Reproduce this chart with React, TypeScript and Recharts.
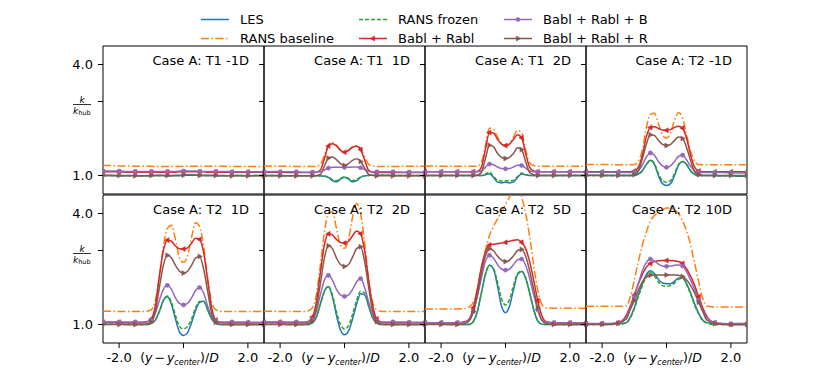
import React from 'react';
import { LineChart, Line, XAxis, YAxis, ReferenceArea } from 'recharts';

// profile positions (y - y_center)/D, denser across the wake
const xs = [-2.5, -2.25, -2, -1.75, -1.5, -1.25, -1.125, -1, -0.875, -0.75, -0.625, -0.5, -0.375, -0.25, -0.125, 0,
  0.125, 0.25, 0.375, 0.5, 0.625, 0.75, 0.875, 1, 1.125, 1.25, 1.5, 1.75, 2, 2.25, 2.5];

const titles = ['Case A: T1 -1D', 'Case A: T1  1D', 'Case A: T1  2D', 'Case A: T2 -1D',
  'Case A: T2  1D', 'Case A: T2  2D', 'Case A: T2  5D', 'Case A: T2 10D'];

const xTicks = [-2, 0, 2];
const yTicks = [1, 3, 4];

// one row per panel, k / k_hub
const les = [
  [1.0, 1.0, 0.99, 1.0, 1.0, 0.99, 1.0, 1.0, 1.0, 1.0, 1.0, 0.99, 0.99, 1.0, 1.0, 1.01, 1.02, 1.02, 1.01, 1.01, 1.0, 1.0, 1.0, 1.0, 0.99, 0.99, 1.0, 1.0, 0.99, 1.0, 1.0],
  [1.0, 1.0, 1.0, 0.99, 0.99, 0.99, 0.99, 0.99, 0.99, 0.99, 0.98, 0.95, 0.86, 0.83, 0.9, 0.95, 0.9, 0.83, 0.86, 0.95, 0.99, 1.0, 1.01, 1.01, 1.01, 1.01, 1.0, 1.0, 1.0, 1.0, 1.0],
  [1.0, 1.0, 1.0, 1.0, 1.0, 1.0, 1.0, 1.0, 1.0, 1.0, 1.02, 1.05, 0.95, 0.82, 0.8, 0.82, 0.8, 0.82, 0.95, 1.04, 1.02, 1.0, 1.0, 1.0, 1.0, 1.0, 1.0, 1.0, 1.0, 1.0, 1.0],
  [1.01, 1.01, 1.0, 1.0, 1.0, 1.0, 1.0, 1.01, 1.04, 1.13, 1.3, 1.41, 1.3, 1.0, 0.78, 0.73, 0.78, 1.0, 1.28, 1.38, 1.3, 1.12, 1.03, 1.0, 1.0, 1.0, 1.0, 0.99, 0.99, 0.98, 0.98],
  [1.01, 1.01, 1.01, 1.0, 1.0, 1.0, 1.0, 1.03, 1.12, 1.35, 1.65, 1.75, 1.55, 1.15, 0.8, 0.7, 0.78, 1.05, 1.38, 1.6, 1.63, 1.4, 1.15, 1.03, 1.0, 1.0, 1.0, 1.0, 1.0, 1.0, 1.0],
  [1.01, 1.01, 1.01, 1.0, 1.0, 1.0, 1.0, 1.04, 1.2, 1.55, 1.9, 2.02, 1.75, 1.25, 0.85, 0.72, 0.82, 1.15, 1.55, 1.83, 1.8, 1.5, 1.18, 1.04, 1.0, 1.0, 1.0, 1.0, 1.0, 1.0, 1.0],
  [1.01, 1.01, 1.01, 1.0, 1.0, 1.0, 1.0, 1.08, 1.35, 1.85, 2.35, 2.6, 2.5, 2.05, 1.5, 1.32, 1.5, 1.95, 2.35, 2.43, 2.25, 1.85, 1.4, 1.1, 1.01, 1.0, 1.0, 1.0, 1.0, 1.0, 1.0],
  [1.02, 1.02, 1.02, 1.02, 1.02, 1.05, 1.2, 1.45, 1.8, 2.1, 2.35, 2.45, 2.38, 2.22, 2.12, 2.1, 2.1, 2.17, 2.26, 2.27, 2.1, 1.85, 1.55, 1.3, 1.12, 1.05, 1.02, 1.02, 1.02, 1.03, 1.03],
];

const ransBaseline = [
  [1.27, 1.27, 1.26, 1.26, 1.25, 1.25, 1.25, 1.25, 1.24, 1.24, 1.24, 1.24, 1.24, 1.24, 1.24, 1.25, 1.25, 1.25, 1.25, 1.25, 1.25, 1.25, 1.25, 1.25, 1.25, 1.25, 1.24, 1.24, 1.24, 1.24, 1.24],
  [1.26, 1.26, 1.25, 1.25, 1.24, 1.24, 1.24, 1.24, 1.25, 1.3, 1.55, 1.82, 1.9, 1.82, 1.68, 1.62, 1.68, 1.78, 1.81, 1.72, 1.5, 1.3, 1.25, 1.24, 1.24, 1.24, 1.24, 1.25, 1.25, 1.25, 1.25],
  [1.26, 1.26, 1.25, 1.25, 1.25, 1.25, 1.25, 1.25, 1.26, 1.35, 1.8, 2.28, 2.25, 2.05, 1.86, 1.79, 1.86, 2.05, 2.22, 2.15, 1.7, 1.35, 1.27, 1.25, 1.25, 1.25, 1.25, 1.25, 1.25, 1.25, 1.25],
  [1.3, 1.3, 1.3, 1.3, 1.29, 1.29, 1.29, 1.3, 1.38, 1.7, 2.3, 2.65, 2.68, 2.4, 2.1, 2.01, 2.15, 2.5, 2.7, 2.55, 2.1, 1.65, 1.38, 1.3, 1.29, 1.29, 1.29, 1.29, 1.29, 1.29, 1.29],
  [1.36, 1.36, 1.35, 1.35, 1.35, 1.35, 1.36, 1.4, 1.65, 2.3, 3.1, 3.6, 3.68, 3.3, 2.8, 2.68, 2.85, 3.35, 3.75, 3.65, 3.1, 2.25, 1.6, 1.4, 1.36, 1.35, 1.35, 1.35, 1.35, 1.35, 1.35],
  [1.36, 1.36, 1.35, 1.35, 1.35, 1.35, 1.37, 1.45, 1.8, 2.6, 3.5, 4.0, 4.05, 3.6, 3.15, 3.06, 3.3, 3.9, 4.27, 4.0, 3.2, 2.2, 1.6, 1.4, 1.36, 1.35, 1.35, 1.35, 1.35, 1.35, 1.35],
  [1.42, 1.42, 1.42, 1.42, 1.42, 1.43, 1.48, 1.6, 1.95, 2.5, 3.0, 3.4, 3.65, 3.85, 4.05, 4.25, 4.45, 4.62, 4.7, 4.45, 4.0, 3.38, 2.6, 1.94, 1.55, 1.45, 1.44, 1.44, 1.44, 1.44, 1.44],
  [1.49, 1.49, 1.49, 1.49, 1.49, 1.5, 1.75, 2.2, 2.7, 3.15, 3.5, 3.8, 3.95, 4.02, 4.1, 4.15, 4.15, 4.1, 4.0, 3.8, 3.52, 3.15, 2.65, 2.15, 1.7, 1.5, 1.47, 1.47, 1.47, 1.47, 1.47],
];

const ransFrozen = [
  [1.0, 1.0, 1.0, 1.0, 0.99, 0.99, 0.99, 1.0, 1.0, 1.0, 1.0, 0.99, 0.99, 1.0, 1.0, 1.01, 1.01, 1.01, 1.01, 1.0, 1.0, 1.0, 1.0, 1.0, 0.99, 0.99, 1.0, 1.0, 1.0, 1.0, 1.0],
  [1.0, 1.0, 1.0, 0.99, 0.99, 0.99, 0.99, 0.99, 0.99, 0.99, 0.98, 0.96, 0.89, 0.86, 0.92, 0.96, 0.92, 0.86, 0.89, 0.96, 0.99, 1.0, 1.01, 1.01, 1.01, 1.01, 1.0, 1.0, 1.0, 1.0, 1.0],
  [1.0, 1.0, 1.0, 1.0, 1.0, 1.0, 1.0, 1.0, 1.0, 1.0, 1.04, 1.09, 0.98, 0.87, 0.85, 0.86, 0.85, 0.87, 0.97, 1.07, 1.03, 1.0, 1.0, 1.0, 1.0, 1.0, 1.0, 1.0, 1.0, 1.0, 1.0],
  [1.0, 1.0, 1.0, 1.0, 1.0, 1.0, 1.0, 1.01, 1.04, 1.13, 1.3, 1.41, 1.32, 1.05, 0.86, 0.82, 0.86, 1.05, 1.3, 1.38, 1.3, 1.12, 1.03, 1.0, 1.0, 1.0, 1.0, 0.99, 0.99, 0.99, 0.99],
  [1.01, 1.01, 1.01, 1.0, 1.0, 1.0, 1.0, 1.03, 1.12, 1.35, 1.65, 1.77, 1.6, 1.25, 0.95, 0.88, 0.95, 1.15, 1.45, 1.62, 1.62, 1.4, 1.15, 1.03, 1.0, 1.0, 1.0, 1.0, 1.0, 1.0, 1.0],
  [1.01, 1.01, 1.01, 1.0, 1.0, 1.0, 1.0, 1.04, 1.2, 1.55, 1.9, 2.03, 1.8, 1.35, 1.0, 0.88, 0.97, 1.28, 1.65, 1.9, 1.85, 1.5, 1.18, 1.04, 1.0, 1.0, 1.0, 1.0, 1.0, 1.0, 1.0],
  [1.01, 1.01, 1.01, 1.0, 1.0, 1.0, 1.0, 1.08, 1.35, 1.85, 2.35, 2.6, 2.52, 2.15, 1.7, 1.53, 1.68, 2.05, 2.38, 2.45, 2.27, 1.87, 1.42, 1.1, 1.01, 1.0, 1.0, 1.0, 1.0, 1.0, 1.0],
  [1.0, 1.0, 1.0, 1.0, 1.0, 1.04, 1.18, 1.42, 1.75, 2.05, 2.3, 2.4, 2.32, 2.15, 2.05, 2.03, 2.05, 2.12, 2.22, 2.25, 2.08, 1.82, 1.52, 1.28, 1.1, 1.04, 1.0, 1.0, 1.0, 1.0, 1.0],
];

const bablRabl = [
  [1.1, 1.1, 1.1, 1.09, 1.09, 1.09, 1.09, 1.09, 1.09, 1.09, 1.09, 1.09, 1.09, 1.09, 1.1, 1.1, 1.1, 1.1, 1.1, 1.1, 1.1, 1.09, 1.09, 1.09, 1.09, 1.09, 1.09, 1.09, 1.09, 1.09, 1.09],
  [1.09, 1.09, 1.09, 1.08, 1.08, 1.08, 1.08, 1.08, 1.09, 1.15, 1.45, 1.8, 1.86, 1.8, 1.68, 1.63, 1.68, 1.76, 1.79, 1.7, 1.42, 1.14, 1.09, 1.08, 1.08, 1.08, 1.08, 1.08, 1.08, 1.08, 1.08],
  [1.1, 1.1, 1.1, 1.1, 1.1, 1.1, 1.1, 1.1, 1.11, 1.22, 1.7, 2.16, 2.15, 1.98, 1.85, 1.81, 1.85, 1.98, 2.1, 2.02, 1.6, 1.22, 1.12, 1.1, 1.1, 1.1, 1.1, 1.1, 1.1, 1.1, 1.1],
  [1.1, 1.1, 1.1, 1.1, 1.1, 1.1, 1.1, 1.12, 1.22, 1.55, 2.05, 2.3, 2.32, 2.27, 2.23, 2.22, 2.24, 2.3, 2.33, 2.28, 2.0, 1.55, 1.22, 1.12, 1.1, 1.1, 1.1, 1.1, 1.1, 1.1, 1.1],
  [1.06, 1.06, 1.06, 1.05, 1.05, 1.05, 1.07, 1.15, 1.5, 2.3, 3.0, 3.28, 3.25, 3.12, 3.05, 3.04, 3.07, 3.2, 3.33, 3.3, 2.95, 2.2, 1.45, 1.12, 1.06, 1.05, 1.05, 1.05, 1.05, 1.05, 1.05],
  [1.06, 1.06, 1.06, 1.05, 1.05, 1.05, 1.08, 1.2, 1.6, 2.4, 3.15, 3.45, 3.42, 3.3, 3.22, 3.2, 3.25, 3.4, 3.53, 3.45, 3.0, 2.2, 1.5, 1.15, 1.07, 1.05, 1.05, 1.05, 1.05, 1.05, 1.05],
  [1.05, 1.05, 1.05, 1.04, 1.04, 1.08, 1.15, 1.45, 1.95, 2.55, 2.95, 3.15, 3.17, 3.18, 3.2, 3.22, 3.25, 3.28, 3.29, 3.22, 3.05, 2.7, 2.2, 1.65, 1.25, 1.08, 1.04, 1.04, 1.04, 1.04, 1.04],
  [1.02, 1.02, 1.02, 1.02, 1.05, 1.25, 1.5, 1.8, 2.1, 2.35, 2.55, 2.65, 2.7, 2.72, 2.73, 2.73, 2.73, 2.72, 2.7, 2.65, 2.5, 2.3, 2.05, 1.75, 1.45, 1.22, 1.04, 1.01, 1.0, 1.0, 1.0],
];

const bablRablB = [
  [1.12, 1.12, 1.12, 1.11, 1.11, 1.11, 1.11, 1.11, 1.11, 1.11, 1.11, 1.11, 1.11, 1.11, 1.12, 1.12, 1.12, 1.12, 1.12, 1.11, 1.11, 1.11, 1.11, 1.11, 1.11, 1.11, 1.1, 1.1, 1.1, 1.1, 1.1],
  [1.1, 1.11, 1.1, 1.1, 1.1, 1.09, 1.09, 1.09, 1.09, 1.1, 1.15, 1.2, 1.22, 1.22, 1.22, 1.22, 1.22, 1.23, 1.23, 1.21, 1.16, 1.11, 1.1, 1.1, 1.1, 1.1, 1.1, 1.09, 1.09, 1.09, 1.09],
  [1.1, 1.1, 1.1, 1.1, 1.1, 1.1, 1.1, 1.1, 1.1, 1.12, 1.22, 1.31, 1.29, 1.23, 1.19, 1.18, 1.19, 1.23, 1.28, 1.27, 1.2, 1.12, 1.1, 1.1, 1.1, 1.1, 1.1, 1.1, 1.1, 1.1, 1.1],
  [1.09, 1.09, 1.09, 1.09, 1.08, 1.08, 1.08, 1.09, 1.13, 1.28, 1.5, 1.61, 1.55, 1.38, 1.26, 1.22, 1.26, 1.38, 1.52, 1.55, 1.42, 1.25, 1.12, 1.09, 1.08, 1.08, 1.08, 1.08, 1.07, 1.07, 1.07],
  [1.07, 1.07, 1.07, 1.07, 1.07, 1.07, 1.08, 1.12, 1.3, 1.65, 1.95, 2.06, 1.95, 1.72, 1.57, 1.53, 1.57, 1.72, 1.92, 2.0, 1.85, 1.5, 1.22, 1.1, 1.07, 1.07, 1.07, 1.07, 1.06, 1.06, 1.06],
  [1.07, 1.07, 1.07, 1.07, 1.07, 1.07, 1.08, 1.13, 1.35, 1.8, 2.2, 2.33, 2.2, 1.95, 1.8, 1.76, 1.8, 1.95, 2.15, 2.24, 2.0, 1.6, 1.25, 1.1, 1.07, 1.07, 1.07, 1.07, 1.06, 1.06, 1.06],
  [1.05, 1.05, 1.05, 1.05, 1.05, 1.07, 1.12, 1.35, 1.75, 2.25, 2.7, 2.87, 2.8, 2.62, 2.5, 2.47, 2.5, 2.62, 2.75, 2.77, 2.6, 2.25, 1.8, 1.4, 1.13, 1.07, 1.05, 1.05, 1.05, 1.05, 1.05],
  [1.03, 1.03, 1.03, 1.03, 1.05, 1.2, 1.45, 1.75, 2.1, 2.45, 2.68, 2.77, 2.72, 2.63, 2.58, 2.57, 2.58, 2.6, 2.61, 2.58, 2.42, 2.2, 1.95, 1.65, 1.38, 1.18, 1.05, 1.03, 1.02, 1.02, 1.02],
];

const bablRablR = [
  [1.0, 1.0, 1.0, 0.99, 0.99, 0.99, 0.99, 1.0, 1.0, 1.0, 1.0, 1.0, 1.0, 1.0, 1.0, 1.01, 1.01, 1.01, 1.01, 1.0, 1.0, 1.0, 1.0, 1.0, 1.0, 1.0, 0.99, 0.99, 0.99, 0.99, 0.99],
  [0.99, 0.99, 0.99, 0.99, 0.99, 0.99, 0.99, 0.99, 1.0, 1.03, 1.25, 1.47, 1.5, 1.43, 1.32, 1.27, 1.32, 1.41, 1.45, 1.38, 1.2, 1.03, 1.0, 0.99, 0.99, 0.99, 0.99, 0.99, 0.99, 0.99, 0.99],
  [1.0, 1.0, 1.0, 1.0, 1.0, 1.0, 1.0, 1.0, 1.01, 1.08, 1.45, 1.82, 1.78, 1.6, 1.49, 1.46, 1.49, 1.6, 1.75, 1.7, 1.38, 1.08, 1.02, 1.0, 1.0, 1.0, 1.0, 1.0, 1.0, 1.0, 1.0],
  [1.0, 1.0, 1.0, 1.0, 1.0, 1.0, 1.0, 1.02, 1.12, 1.45, 1.85, 2.1, 2.08, 1.95, 1.84, 1.81, 1.84, 1.95, 2.04, 2.0, 1.75, 1.4, 1.1, 1.02, 1.0, 1.0, 1.0, 1.0, 1.0, 1.0, 1.0],
  [1.0, 1.0, 1.0, 1.0, 1.0, 1.0, 1.02, 1.07, 1.35, 2.0, 2.6, 2.87, 2.8, 2.6, 2.44, 2.39, 2.44, 2.6, 2.8, 2.84, 2.5, 1.9, 1.3, 1.06, 1.01, 1.0, 1.0, 1.0, 1.0, 1.0, 1.0],
  [1.0, 1.0, 1.0, 1.0, 1.0, 1.0, 1.03, 1.1, 1.45, 2.1, 2.8, 3.13, 3.05, 2.8, 2.62, 2.57, 2.62, 2.82, 3.05, 3.1, 2.7, 2.0, 1.35, 1.08, 1.02, 1.0, 1.0, 1.0, 1.0, 1.0, 1.0],
  [1.0, 1.0, 1.0, 1.0, 1.0, 1.03, 1.1, 1.35, 1.8, 2.4, 2.85, 3.05, 3.0, 2.85, 2.74, 2.7, 2.74, 2.86, 3.0, 3.03, 2.85, 2.45, 1.95, 1.45, 1.12, 1.03, 1.0, 1.0, 1.0, 1.0, 1.0],
  [1.0, 1.0, 1.0, 1.0, 1.03, 1.15, 1.4, 1.65, 1.92, 2.15, 2.28, 2.33, 2.34, 2.34, 2.34, 2.34, 2.34, 2.34, 2.33, 2.3, 2.2, 2.05, 1.85, 1.6, 1.35, 1.12, 1.02, 1.0, 1.0, 1.0, 1.0],
];

const series = [
  { key: 'les', name: 'LES', color: '#1f77b4', dash: undefined, marker: '', values: les },
  { key: 'base', name: 'RANS baseline', color: '#ff7f0e', dash: '8 2.5 1.5 2.5', marker: '', values: ransBaseline },
  { key: 'frozen', name: 'RANS frozen', color: '#2ca02c', dash: '4 2', marker: '', values: ransFrozen },
  { key: 'br', name: 'Babl + Rabl', color: '#d62728', dash: undefined, marker: 'left', values: bablRabl },
  { key: 'brb', name: 'Babl + Rabl + B', color: '#9467bd', dash: undefined, marker: 'circle', values: bablRablB },
  { key: 'brr', name: 'Babl + Rabl + R', color: '#8c564b', dash: undefined, marker: 'right', values: bablRablR },
];

const FONT = 'DejaVu Sans';
const colLefts = [103, 264, 425, 586];
const rowTops = [46, 195];
const PW = 161, PH = 148, YW = 50, XH = 34, PAD = 2;

function markerShape(kind: string, cx: number, cy: number, color: string, key?: string) {
  const r = 2.8;
  if (kind === 'left')
    return <polygon key={key} points={`${cx - r},${cy} ${cx + r * 0.6},${cy - r * 0.9} ${cx + r * 0.6},${cy + r * 0.9}`} fill={color} stroke={color} strokeWidth={0.5} />;
  if (kind === 'right')
    return <polygon key={key} points={`${cx + r},${cy} ${cx - r * 0.6},${cy - r * 0.9} ${cx - r * 0.6},${cy + r * 0.9}`} fill={color} stroke={color} strokeWidth={0.5} />;
  return <circle key={key} cx={cx} cy={cy} r={2.1} fill={color} stroke={color} strokeWidth={0.5} />;
}

// markers every 0.5 D, like a sparse markevery
const makeDot = (kind: string, color: string) => (props: any) => {
  const { cx, cy, index, payload } = props;
  const k = `m${index}`;
  const onGrid = payload && Math.abs(payload.x * 2 - Math.round(payload.x * 2)) < 1e-6;
  if (!onGrid || cx == null || cy == null) return <g key={k} />;
  return markerShape(kind, cx, cy, color, k);
};

const emptyTick = () => <g />;

const renderYTick = (props: any) => {
  const { x, y, payload } = props;
  if (payload.value === 3) {
    return (
      <g fontFamily={FONT} fill="#000">
        <text x={x - 11} y={y + 1.5} textAnchor="middle" fontSize={9} fontStyle="italic">k</text>
        <line x1={x - 20} x2={x - 2} y1={y + 3} y2={y + 3} stroke="#000" strokeWidth={0.8} />
        <text x={x - 20} y={y + 12} fontSize={9}>
          <tspan fontStyle="italic">k</tspan>
          <tspan fontSize={6.5} dy={1.5}>hub</tspan>
        </text>
      </g>
    );
  }
  return (
    <text x={x} y={y} dy="0.36em" textAnchor="end" fontSize={13} fontFamily={FONT} fill="#000">
      {payload.value.toFixed(1)}
    </text>
  );
};

const renderXTick = (props: any) => {
  const { x, y, payload } = props;
  if (payload.value === 0) {
    return (
      <text x={x - 4} y={y} dy="0.71em" textAnchor="middle" fontSize={12.5} fontFamily={FONT} fill="#000">
        (<tspan fontStyle="italic">y</tspan><tspan dx={2}>−</tspan><tspan dx={2} fontStyle="italic">y</tspan>
        <tspan fontSize={8} fontStyle="italic" dy={3}>center</tspan>
        <tspan dy={-3}>)/</tspan><tspan fontStyle="italic">D</tspan>
      </text>
    );
  }
  return (
    <text x={x} y={y} dy="0.71em" textAnchor="middle" fontSize={13} fontFamily={FONT} fill="#000">
      {payload.value.toFixed(1)}
    </text>
  );
};

function Panel({ p }: { p: number }) {
  const col = p % 4;
  const row = Math.floor(p / 4);
  const bottomRow = row === 1;
  const data = xs.map((x, i) => {
    const o: any = { x };
    series.forEach((s) => { o[s.key] = s.values[p][i]; });
    return o;
  });
  return (
    <div style={{ position: 'absolute', left: colLefts[col] - YW, top: rowTops[row] - PAD }}>
      <LineChart
        width={YW + PW + PAD}
        height={PAD + PH + (bottomRow ? XH : PAD)}
        data={data}
        margin={{ top: PAD, right: PAD, bottom: bottomRow ? 0 : PAD, left: 0 }}
      >
        <XAxis xAxisId="b" dataKey="x" type="number" domain={[-2.5, 2.5]} ticks={xTicks} allowDataOverflow
          height={bottomRow ? XH : 0} tick={bottomRow ? renderXTick : emptyTick} tickLine={bottomRow}
          axisLine={false} tickSize={5} tickMargin={5} stroke="#000" interval={0} />
        <YAxis yAxisId="l" type="number" domain={[0.5, 4.5]} ticks={yTicks} allowDataOverflow width={YW}
          tick={col === 0 ? renderYTick : emptyTick} axisLine={false} tickSize={5} tickMargin={5}
          stroke="#000" interval={0} />
        {series.map((s) => (
          <Line key={s.key} xAxisId="b" yAxisId="l" dataKey={s.key} type="monotone" stroke={s.color}
            strokeWidth={1.5} strokeDasharray={s.dash}
            dot={s.marker ? makeDot(s.marker, s.color) : false} activeDot={false}
            isAnimationActive={false} />
        ))}
        <ReferenceArea xAxisId="b" yAxisId="l" x1={-2.5} x2={2.5} y1={0.5} y2={4.5}
          fill="none" fillOpacity={0} stroke="#000" strokeWidth={1} ifOverflow="visible" />
      </LineChart>
    </div>
  );
}

// legend columns (line start x) and rows (baseline y)
const legendCols = [201, 359, 504];
const legendRows = [24, 43];

export default function App() {
  return (
    <div style={{ position: 'absolute', left: 0, top: 0, width: 830, height: 386, background: '#fff' }}>
      {titles.map((_, p) => <Panel key={p} p={p} />)}
      <svg width={830} height={386} style={{ position: 'absolute', left: 0, top: 0, pointerEvents: 'none' }}>
        {series.map((s, i) => {
          const lx = legendCols[Math.floor(i / 2)];
          const ly = legendRows[i % 2] - 4.5;
          return (
            <g key={s.key}>
              <line x1={lx} x2={lx + 28} y1={ly} y2={ly} stroke={s.color} strokeWidth={1.5} strokeDasharray={s.dash} />
              {s.marker ? markerShape(s.marker, lx + 14, ly, s.color) : null}
              <text x={lx + 39} y={legendRows[i % 2]} fontSize={13} fontFamily={FONT} fill="#000">{s.name}</text>
            </g>
          );
        })}
        {titles.map((t, p) => (
          <text key={t} x={colLefts[p % 4] + PW - 15} y={rowTops[Math.floor(p / 4)] + 19} textAnchor="end"
            fontSize={13} fontFamily={FONT} fill="#000" style={{ whiteSpace: 'pre' }}>{t}</text>
        ))}
      </svg>
    </div>
  );
}
